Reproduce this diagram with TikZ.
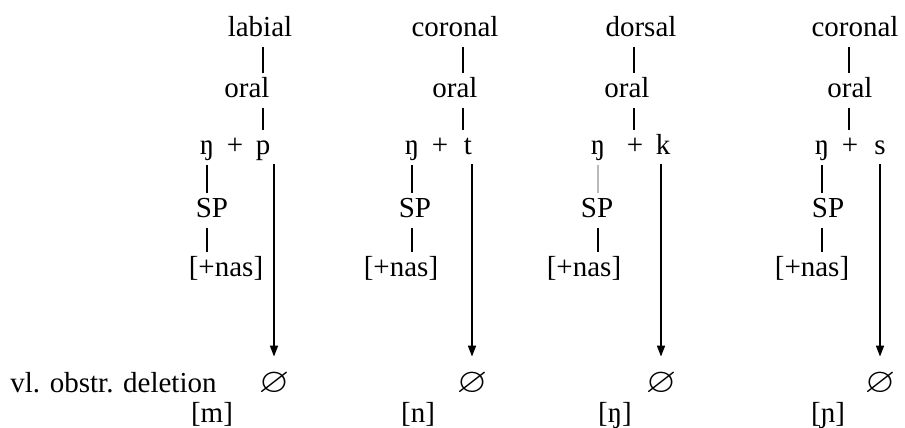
\documentclass[tikz,border=0pt]{standalone}
\usepackage{amssymb}
\usepackage{graphicx}
\usepackage{fontspec}
\setmainfont{Liberation Serif}
\usetikzlibrary{arrows.meta}
\newcommand{\nullseg}{\scalebox{1.35}[1.2]{$\varnothing$}}

\begin{document}
\begin{tikzpicture}[x=0.5pt,y=-0.5pt,
  lbl/.style={anchor=base,inner sep=0pt,text height=10pt,text depth=3.2pt,font=\fontsize{14.5}{17}\selectfont},
  tick/.style={line width=0.8pt,shorten <=2pt,shorten >=2pt},
  faint/.style={tick,draw=gray!55},
  arr/.style={-{Triangle[length=5.5pt,width=4pt]},line width=0.8pt,shorten <=1.5pt,shorten >=7.5pt}
]
\useasboundingbox (0,0) rectangle (905,428);
% column 1: ng + p
\node[lbl] (top1) at (260,36) {labial};
\node[lbl] (oral1) at (247,97) {oral};
\node[lbl] (ng1) at (207,154) {ŋ};
\node[lbl] (plus1) at (235,154) {+};
\node[lbl] (seg1) at (263,154) {p};
\node[lbl] (sp1) at (212,217) {SP};
\node[lbl] (nas1) at (226,276) {[+nas]};
\node[lbl] (zero1) at (274,392) {\nullseg};
\node[lbl] (out1) at (212,422) {[m]};
\coordinate (k1) at (263,0);
% column 2: ng + t
\node[lbl] (top2) at (455,36) {coronal};
\node[lbl] (oral2) at (455,97) {oral};
\node[lbl] (ng2) at (412,154) {ŋ};
\node[lbl] (plus2) at (440,154) {+};
\node[lbl] (seg2) at (468,154) {t};
\node[lbl] (sp2) at (415,217) {SP};
\node[lbl] (nas2) at (401,276) {[+nas]};
\node[lbl] (zero2) at (472,392) {\nullseg};
\node[lbl] (out2) at (418,422) {[n]};
\coordinate (k2) at (463,0);
% column 3: ng + k
\node[lbl] (top3) at (641,36) {dorsal};
\node[lbl] (oral3) at (627,97) {oral};
\node[lbl] (ng3) at (598,154) {ŋ};
\node[lbl] (plus3) at (635,154) {+};
\node[lbl] (seg3) at (663,154) {k};
\node[lbl] (sp3) at (597,217) {SP};
\node[lbl] (nas3) at (584,276) {[+nas]};
\node[lbl] (zero3) at (661,392) {\nullseg};
\node[lbl] (out3) at (615,422) {[ŋ]};
\coordinate (k3) at (634,0);
% column 4: ng + s
\node[lbl] (top4) at (855,36) {coronal};
\node[lbl] (oral4) at (850,97) {oral};
\node[lbl] (ng4) at (822,154) {ŋ};
\node[lbl] (plus4) at (850,154) {+};
\node[lbl] (seg4) at (880,154) {s};
\node[lbl] (sp4) at (828,217) {SP};
\node[lbl] (nas4) at (812,276) {[+nas]};
\node[lbl] (zero4) at (880,392) {\nullseg};
\node[lbl] (out4) at (828,422) {[ɲ]};
\coordinate (k4) at (849,0);
\node[lbl,anchor=base west] (rule) at (10,392) {vl. obstr. deletion};
% links
\draw[tick] (top1.south -| k1) -- (oral1.north -| k1);
\draw[tick] (oral1.south -| k1) -- (seg1.north -| k1);
\draw[tick] (ng1.south) -- (sp1.north -| ng1);
\draw[tick] (sp1.south -| ng1) -- (nas1.north -| ng1);
\draw[arr] (seg1.south -| zero1) -- (zero1.north);
\draw[tick] (top2.south -| k2) -- (oral2.north -| k2);
\draw[tick] (oral2.south -| k2) -- (seg2.north -| k2);
\draw[tick] (ng2.south) -- (sp2.north -| ng2);
\draw[tick] (sp2.south -| ng2) -- (nas2.north -| ng2);
\draw[arr] (seg2.south -| zero2) -- (zero2.north);
\draw[tick] (top3.south -| k3) -- (oral3.north -| k3);
\draw[tick] (oral3.south -| k3) -- (seg3.north -| k3);
\draw[faint] (ng3.south) -- (sp3.north -| ng3);
\draw[tick] (sp3.south -| ng3) -- (nas3.north -| ng3);
\draw[arr] (seg3.south -| zero3) -- (zero3.north);
\draw[tick] (top4.south -| k4) -- (oral4.north -| k4);
\draw[tick] (oral4.south -| k4) -- (seg4.north -| k4);
\draw[tick] (ng4.south) -- (sp4.north -| ng4);
\draw[tick] (sp4.south -| ng4) -- (nas4.north -| ng4);
\draw[arr] (seg4.south -| zero4) -- (zero4.north);
\end{tikzpicture}
\end{document}
